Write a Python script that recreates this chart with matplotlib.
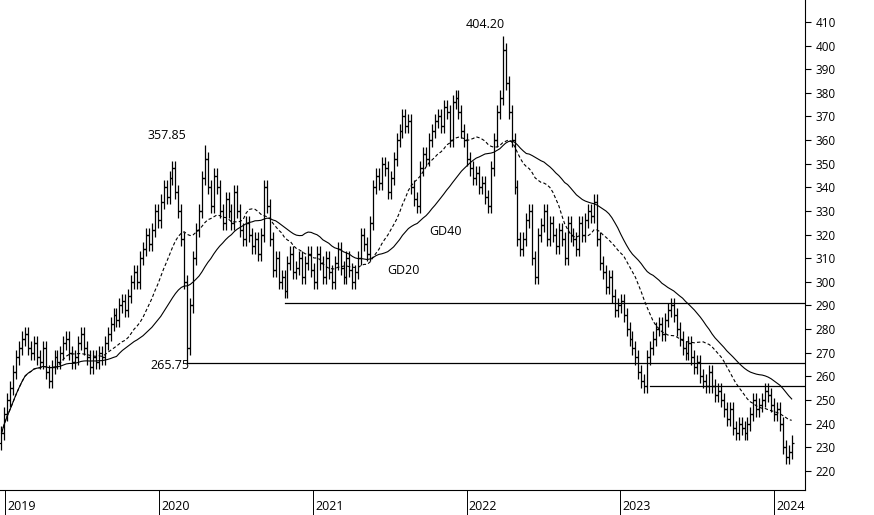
import matplotlib
matplotlib.use("Agg")
import matplotlib.pyplot as plt
import numpy as np
import pandas as pd

plt.rcParams['font.family'] = ['Open Sans', 'DejaVu Sans']

# weekly closes, starting week of 2018-12-24
closes = [
    236, 244, 250, 255, 262, 268, 272, 276, 278, 272,
    270, 274, 268, 266, 272, 262, 258, 264, 268, 266,
    270, 274, 276, 270, 266, 268, 274, 278, 272, 268,
    264, 268, 266, 270, 268, 274, 278, 282, 286, 284,
    290, 292, 288, 294, 300, 304, 300, 310, 314, 320,
    316, 322, 330,
    326, 334, 340, 336, 344, 348, 338,
    330, 318, 300, 272, 290,
    310, 322, 330, 344, 352,
    340, 332, 345, 340, 330, 325, 335, 330, 325, 338,
    330, 322, 318, 325, 320, 315, 318, 312, 320, 340,
    332, 318, 305, 310, 300, 302, 296, 308, 312, 304,
    306, 310, 302, 308, 312,
    305, 300, 312, 308, 302, 310, 304, 300, 308, 314,
    306, 302, 310, 305, 300, 304, 310, 320, 316, 312,
    325, 340, 345, 342, 350, 348, 338, 344, 352, 360,
    364, 370, 366, 368, 340, 335, 332, 348, 354, 352,
    360, 364, 368, 370, 366, 374, 372, 360, 376, 378, 372, 364,
    360, 352, 348, 344, 346, 340, 342, 336, 332, 348,
    360, 372, 378, 398, 384, 372, 360, 340, 318, 314,
    318, 326, 330, 310, 302, 320, 324, 330, 318, 325,
    320, 315, 322, 318, 310, 325, 320, 318, 314, 325,
    320, 326, 330, 328, 334, 318, 308, 304, 298, 302, 294, 288,
    290, 292, 286, 280, 276, 272, 268, 262, 258, 256,
    268, 272, 276, 280, 282, 278, 284, 288, 290, 286,
    280, 276, 272, 270, 274, 268, 264, 266, 260, 258,
    256, 262, 256, 252, 254, 250, 246, 242, 246, 238,
    236, 240, 238, 236, 240, 244, 250, 246, 248, 250, 254, 252,
    248, 244, 246, 240, 230, 226, 228, 232,
]
start = pd.Timestamp('2018-12-24')
wick = 3.0
high_override = {69: 357.85, 170: 404.20}
low_override = {63: 265.75}
support_levels = [(96, 291.0), (63, 265.75), (220, 256.0)]
years = [2019, 2020, 2021, 2022, 2023, 2024]

c = np.array(closes, dtype=float)
o = np.concatenate([[c[0] - 4], c[:-1]])
h = np.maximum(o, c) + wick
l = np.minimum(o, c) - wick
for k, v in high_override.items():
    h[k] = v
for k, v in low_override.items():
    l[k] = v
x = np.arange(len(c))
gd20 = pd.Series(c).rolling(20, min_periods=1).mean()
gd40 = pd.Series(c).rolling(40, min_periods=1).mean()

fig = plt.figure(figsize=(8.74, 5.15), dpi=100)
ax = fig.add_axes([0.0, 0.049, 0.921, 0.951])

ax.vlines(x, l, h, color='black', lw=0.9)
ax.hlines(o, x - 0.9, x, color='black', lw=0.9)
ax.hlines(c, x, x + 0.9, color='black', lw=0.9)
ax.plot(x, gd20, color='black', lw=0.8, ls=(0, (3, 2)))
ax.plot(x, gd40, color='black', lw=0.8)

xmax = 272.5
for i0, lev in support_levels:
    ax.plot([i0, xmax], [lev, lev], color='black', lw=0.9)

ax.text(56, 359, '357.85', fontsize=9, ha='center', va='bottom')
ax.text(57, 262, '265.75', fontsize=9, ha='center', va='bottom')
ax.text(164, 406, '404.20', fontsize=9, ha='center', va='bottom')
ax.text(131, 302, 'GD20', fontsize=9, ha='left', va='bottom')
ax.text(145, 318.5, 'GD40', fontsize=9, ha='left', va='bottom')

ax.set_xlim(-0.5, xmax)
ax.set_ylim(212, 419.3)
ax.yaxis.tick_right()
ax.set_yticks(np.arange(220, 411, 10))
ax.tick_params(axis='y', labelsize=8.5, length=4, direction='out')
yt = [((pd.Timestamp(f'{y}-01-01') - start).days / 7) for y in years]
ax.set_xticks(yt)
ax.set_xticklabels([])
ax.tick_params(axis='x', length=22, direction='out', width=0.7)
for t, y in zip(yt, years):
    ax.text(t + 0.8, 212, str(y), fontsize=9, ha='left', va='top',
            transform=ax.transData, clip_on=False).set_y(207.5)
for s in ['top', 'left']:
    ax.spines[s].set_visible(False)
ax.spines['right'].set_linewidth(0.8)
ax.spines['bottom'].set_linewidth(0.8)

fig.savefig('out.png', dpi=100)
